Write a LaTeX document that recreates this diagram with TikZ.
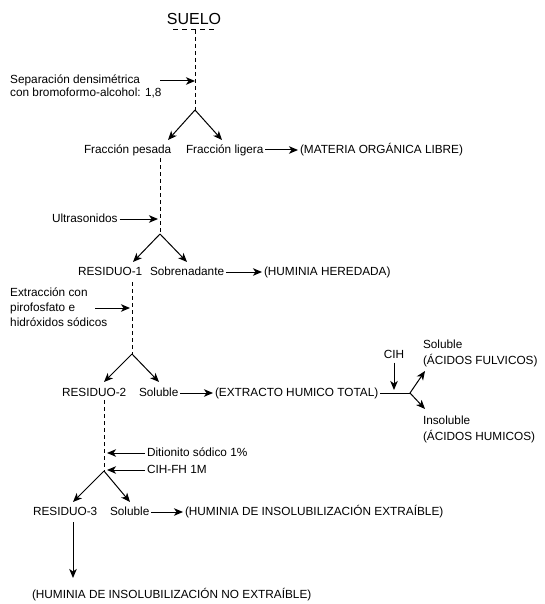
\documentclass[tikz,border=0pt]{standalone}
\usepackage{fontspec}
\setmainfont{Liberation Sans}
\usetikzlibrary{arrows.meta}

\begin{document}
\begin{tikzpicture}[x=1pt,y=-1pt,
  txt/.style={anchor=west,inner sep=0pt,outer sep=2pt,text height=9pt,text depth=2pt,font=\fontsize{11.8}{13}\selectfont},
  ml/.style={anchor=west,inner sep=0pt,align=left,font=\fontsize{11.8}{13}\selectfont},
  arr/.style={-{Stealth[length=9pt,width=7.5pt,inset=2.5pt]},line width=1pt},
  dline/.style={line width=1pt,dash pattern=on 4pt off 3pt}]
  \useasboundingbox (0,0) rectangle (544,604);

  \node[name=suelo, inner sep=0pt, font=\fontsize{16}{18}\selectfont] at (194,19) {SUELO};
  \draw[dline, dash pattern=on 5pt off 4pt] (173,30) -- (215,30);
  \coordinate (a0) at (195,30);
  \coordinate (a1) at (195,110);
  \draw[dline] (a0) -- (a1);
  \node[name=sep, ml] at (10,86.5) {Separación densimétrica\\con bromoformo-alcohol: 1,8};
  \coordinate (s1) at (160,81);
  \draw[arr] (s1) -- (a1 |- s1);
  \draw[arr] (a1) -- ++(-27,30);
  \draw[arr] (a1) -- ++(27,30);

  \node[name=pesada, txt] at (82,150) {Fracción pesada};
  \node[name=ligera, txt] at (184,150) {Fracción ligera};
  \node[name=libre, txt] at (298,150) {(MATERIA ORGÁNICA LIBRE)};
  \draw[arr] (ligera) -- (libre);

  \coordinate (b0) at (160,158);
  \coordinate (b1) at (160,234);
  \draw[dline] (b0) -- (b1);
  \node[name=ultra, txt] at (50,219) {Ultrasonidos};
  \draw[arr, shorten >=2pt] (ultra) -- (b1 |- ultra);
  \draw[arr] (b1) -- ++(-27,28);
  \draw[arr] (b1) -- ++(27,28);

  \node[name=res1, txt] at (76,272) {RESIDUO-1};
  \node[name=sobre, txt] at (148,272) {Sobrenadante};
  \node[name=heredada, txt] at (262,272) {(HUMINIA HEREDADA)};
  \draw[arr] (sobre) -- (heredada);

  \coordinate (c0) at (132,282);
  \coordinate (c1) at (132,354);
  \draw[dline] (c0) -- (c1);
  \node[name=extr, ml, font=\fontsize{11.8}{15}\selectfont] at (10,307) {Extracción con\\pirofosfato e\\hidróxidos sódicos};
  \coordinate (e1) at (95,308);
  \draw[arr, shorten >=2pt] (e1) -- (c1 |- e1);
  \draw[arr] (c1) -- ++(-28,28);
  \draw[arr] (c1) -- ++(27,28);

  \node[name=res2, txt] at (60,393) {RESIDUO-2};
  \node[name=sol2, txt] at (137,393) {Soluble};
  \node[name=total, txt] at (213,393) {(EXTRACTO HUMICO TOTAL)};
  \draw[arr] (sol2) -- (total);
  \coordinate (j) at (410,393);
  \draw[line width=1pt] (total) -- (j);
  \node[name=cih, txt, anchor=center] at (394,355) {CIH};
  \draw[arr, shorten >=3pt] (cih) -- (cih |- j);
  \draw[arr] (j) -- ++(15,-22);
  \draw[arr] (j) -- ++(15,16);
  \node[name=fsol, txt] at (421,345) {Soluble};
  \node[name=fulv, txt] at (421,361) {(ÁCIDOS FULVICOS)};
  \node[name=insol, txt] at (421,421) {Insoluble};
  \node[name=humic, txt] at (421,437) {(ÁCIDOS HUMICOS)};

  \coordinate (d0) at (104,400);
  \coordinate (d1) at (104,471);
  \draw[dline] (d0) -- (d1);
  \node[name=dit, txt] at (145,453) {Ditionito sódico 1\%};
  \node[name=cihfh, txt] at (145,470) {CIH-FH 1M};
  \draw[arr, shorten >=3pt] (dit) -- (d1 |- dit);
  \draw[arr, shorten >=3pt] (cihfh) -- (d1 |- cihfh);
  \draw[arr] (d1) -- ++(-31,31);
  \draw[arr] (d1) -- ++(26,31);

  \node[name=res3, txt] at (31,512) {RESIDUO-3};
  \node[name=sol3, txt] at (108,512) {Soluble};
  \node[name=extraible, txt] at (183,512) {(HUMINIA DE INSOLUBILIZACIÓN EXTRAÍBLE)};
  \draw[arr] (sol3) -- (extraible);
  \node[name=noextr, txt] at (30,595) {(HUMINIA DE INSOLUBILIZACIÓN NO EXTRAÍBLE)};
  \coordinate (r3) at (73,522);
  \draw[arr] (r3) -- (r3 |- 0,578);
\end{tikzpicture}
\end{document}
